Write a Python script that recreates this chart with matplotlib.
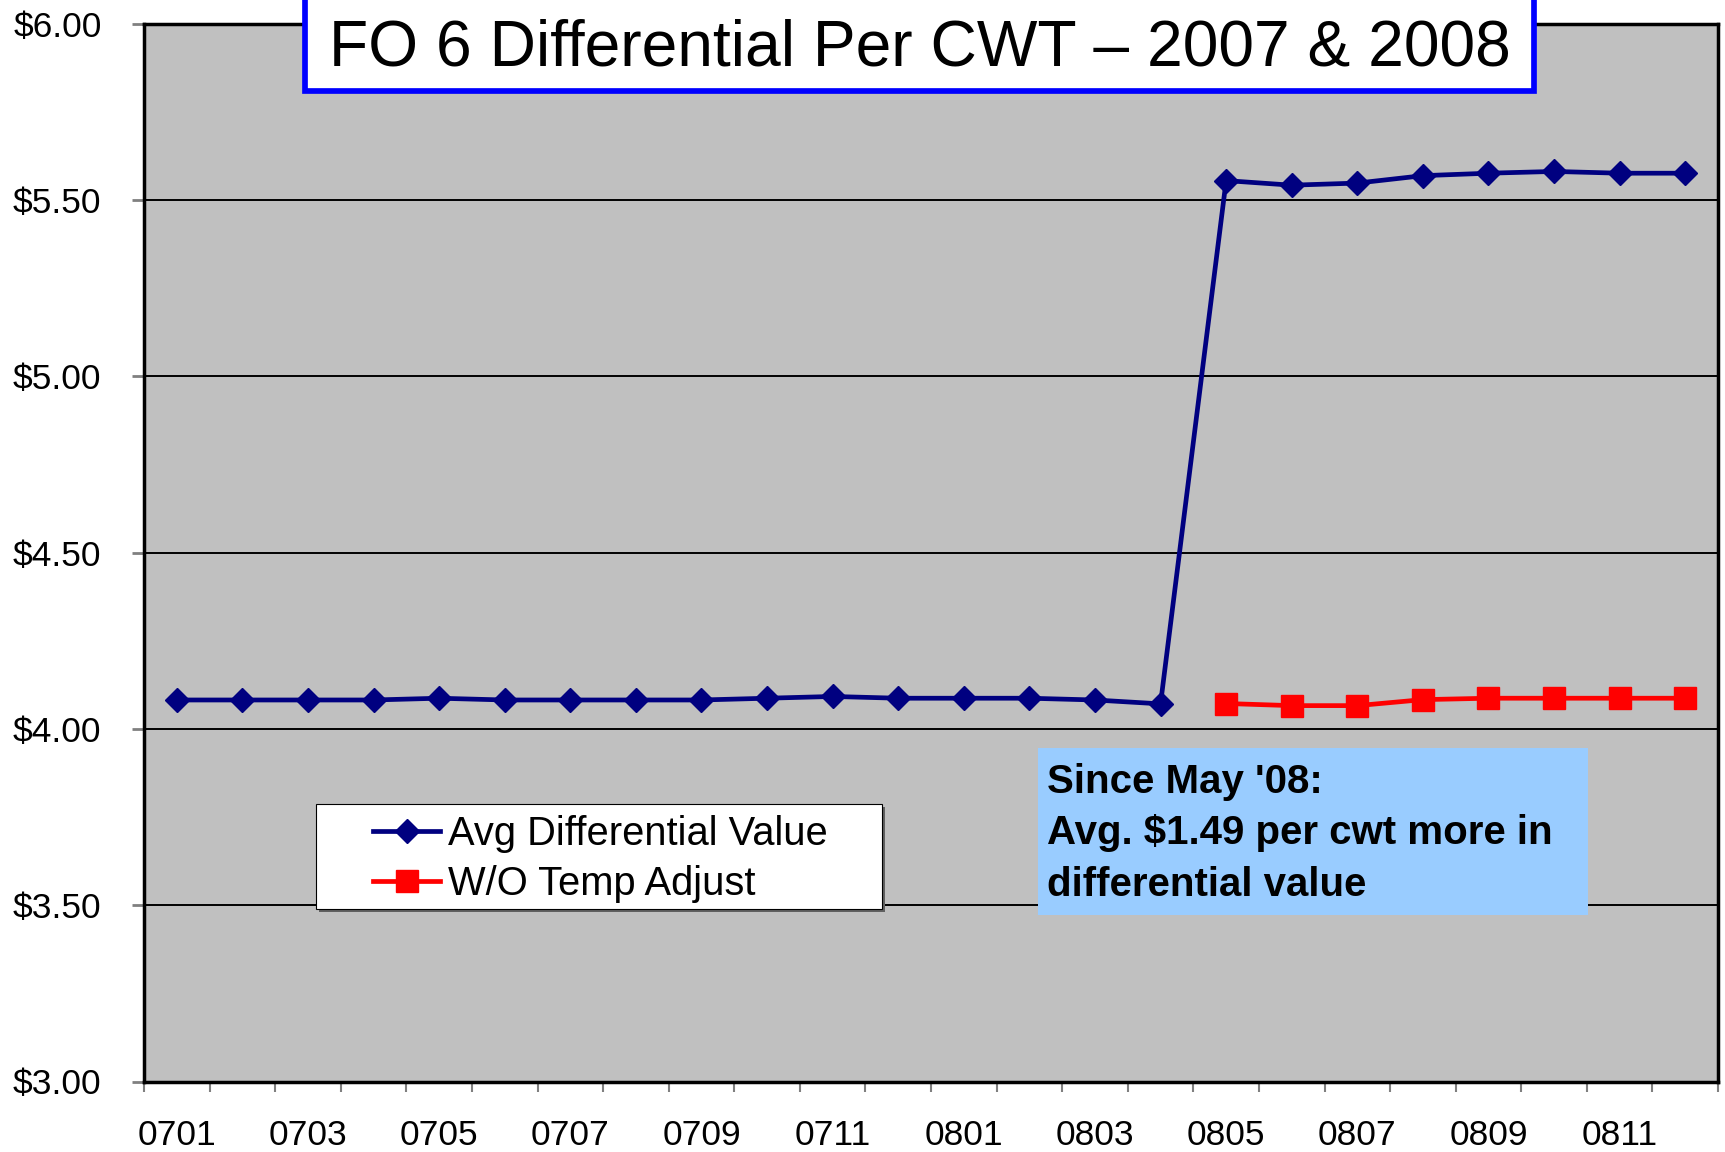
import numpy as np
import matplotlib
matplotlib.use("Agg")
import matplotlib.pyplot as plt
from matplotlib.patches import Rectangle

plt.rcParams['font.family'] = ['Liberation Sans', 'DejaVu Sans']

# month codes (yymm) and values
months = ['0701', '0702', '0703', '0704', '0705', '0706', '0707', '0708',
          '0709', '0710', '0711', '0712', '0801', '0802', '0803', '0804',
          '0805', '0806', '0807', '0808', '0809', '0810', '0811', '0812']
avg_diff = [4.082, 4.082, 4.082, 4.082, 4.087, 4.082, 4.082, 4.082,
            4.082, 4.087, 4.092, 4.087, 4.087, 4.087, 4.082, 4.071,
            5.555, 5.542, 5.548, 5.569, 5.576, 5.581, 5.576, 5.576]
wo_temp_months = months[16:]
wo_temp = [4.072, 4.066, 4.066, 4.083, 4.087, 4.087, 4.087, 4.087]
y_ticks = [3.00, 3.50, 4.00, 4.50, 5.00, 5.50, 6.00]
title = "FO 6 Differential Per CWT \u2013 2007 & 2008"
note_lines = ["Since May '08:", "Avg. $1.49 per cwt more in", "differential value"]

W, H = 1725, 1152


def fx(px):
    return px / W


def fy(py):
    return 1 - py / H


fig = plt.figure(figsize=(W / 100, H / 100), dpi=100)
ax = fig.add_axes([fx(144), fy(1081.5), fx(1718) - fx(144), fy(23.7) - fy(1081.5)])
ax.set_facecolor('#C0C0C0')

x_all = np.arange(len(months))
x_wo = np.array([months.index(m) for m in wo_temp_months])

ax.plot(x_all, avg_diff, color='#000080', lw=3.4, marker='D', ms=12,
        mfc='#000080', mec='#000080', label='Avg Differential Value', zorder=3)
ax.plot(x_wo, wo_temp, color='#FF0000', lw=3.4, marker='s', ms=15.5,
        mfc='#FF0000', mec='#FF0000', label='W/O Temp Adjust', zorder=3)

ax.set_xlim(-0.5, len(months) - 0.5)
ax.set_ylim(3.0, 6.0)
ax.set_yticks(y_ticks)
ax.set_yticklabels(['$%.2f' % v for v in y_ticks])
ax.set_xticks(np.arange(len(months) + 1) - 0.5)
ax.set_xticks(x_all[::2], minor=True)
ax.set_xticklabels(months[::2], minor=True)
ax.tick_params(axis='x', which='major', length=7.2, width=1.5, color='#808080',
               labelbottom=False)
ax.tick_params(axis='x', which='minor', length=0, labelsize=25.5, pad=27)
ax.tick_params(axis='y', length=8.6, width=2, color='#808080', labelsize=25.5, pad=22)

ax.set_axisbelow(True)
ax.yaxis.grid(True, color='black', lw=1.4)
for sp in ax.spines.values():
    sp.set_linewidth(2.5)
    sp.set_color('black')

# legend frame with a small shadow
ax.add_patch(Rectangle((fx(319), fy(912)), fx(882) - fx(316), fy(804) - fy(909),
                       transform=fig.transFigure, facecolor='#606060', edgecolor='none',
                       zorder=4, clip_on=False))
ax.add_patch(Rectangle((fx(316), fy(909)), fx(882) - fx(316), fy(804) - fy(909),
                       transform=fig.transFigure, facecolor='white', edgecolor='black',
                       lw=0.8, zorder=4.2, clip_on=False))
ax.legend(loc='upper left', bbox_to_anchor=(fx(373), fy(815)),
          bbox_transform=fig.transFigure, frameon=False, fontsize=28.75,
          handlelength=1.68, handletextpad=0.2, labelspacing=0.3,
          borderpad=0, borderaxespad=0, numpoints=1)

# annotation box
ax.add_patch(Rectangle((fx(1038), fy(915)), fx(1588) - fx(1038), fy(748) - fy(915),
                       transform=fig.transFigure, facecolor='#99CCFF', edgecolor='none',
                       zorder=4, clip_on=False))
for line, base in zip(note_lines, [793, 844, 896]):
    fig.text(fx(1047), fy(base), line, fontsize=29, fontweight='bold',
             ha='left', va='baseline', zorder=6)

# title box, running off the top edge
fig.add_artist(Rectangle((fx(305), fy(91)), fx(1534) - fx(305), 120 / H,
                         transform=fig.transFigure, facecolor='white',
                         edgecolor='#0000FF', lw=4.1, zorder=5, clip_on=False))
fig.text(fx(919.5), fy(66), title, fontsize=46.2, ha='center', va='baseline', zorder=6)

fig.savefig('out.png', dpi=100)
